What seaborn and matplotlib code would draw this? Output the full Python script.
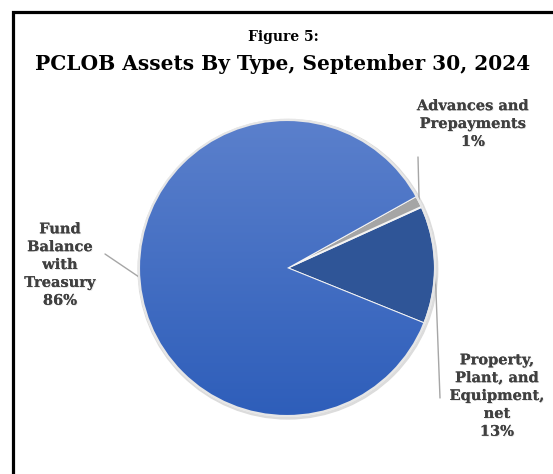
import numpy as np
import matplotlib
matplotlib.use("Agg")
import matplotlib.pyplot as plt
import seaborn as sns
from matplotlib.patches import Rectangle, Circle
import matplotlib.patheffects as pe

# ----------------- Data -----------------
categories = ["Property, Plant, and Equipment, net", "Advances and Prepayments", "Fund Balance with Treasury"]
shares = [12.9, 1.3, 85.8]
pct_labels = ["13%", "1%", "86%"]
label_texts = ["Property,\nPlant, and\nEquipment,\nnet", "Advances and\nPrepayments", "Fund\nBalance\nwith\nTreasury"]
colors = ["#2F5597", "#A5A5A5", "#4472C4"]

# ----------------- Style -----------------
sns.set_theme(style="white")
plt.rcParams["font.family"] = ["DejaVu Serif"]

W, H = 553, 474
CX, CY, R = 287, 268, 148  # pie centre / radius in pixels


def px(x, y):
    # pixel position (from top-left) -> data coords where pie radius = 1
    return (x - CX) / R, (CY - y) / R


fig = plt.figure(figsize=(W / 100, H / 100), dpi=100)
ax = fig.add_axes([0, 0, 1, 1])

# frame around the figure (cut off at right and bottom)
fig.patches.append(Rectangle((12.5 / W, -0.2), 1.2, (H - 11.5) / H + 0.2,
                             transform=fig.transFigure, fill=False,
                             edgecolor="black", linewidth=2.3, zorder=10))

# ----------------- Titles -----------------
fig.text(283 / W, 1 - 37 / H, "Figure 5:", ha="center", va="center",
         fontsize=10, fontweight="bold", color="black")
fig.text(283 / W, 1 - 64 / H, "PCLOB Assets By Type, September 30, 2024", ha="center", va="center",
         fontsize=14.5, fontweight="bold", color="black")

# ----------------- Pie -----------------
ax.add_patch(Circle((0.006, -0.008), 1.012, color="#dcdcdc", zorder=1))
wedges, _ = ax.pie(shares, colors=colors, startangle=-22, counterclock=True, radius=1,
                   wedgeprops=dict(edgecolor="#f4f4f4", linewidth=1.4),
                   frame=True)
ax.set_xlim(-CX / R, (W - CX) / R)
ax.set_ylim((CY - H) / R, CY / R)
ax.set_aspect("auto")
ax.axis("off")
for w in wedges:
    w.set_zorder(3)

# vertical gradient on the large slice (lighter at the top)
grad = np.linspace(0, 1, 256).reshape(-1, 1)
cmap = matplotlib.colors.LinearSegmentedColormap.from_list("g", ["#5B80CC", "#2E5EBA"])
im = ax.imshow(grad, extent=[-1, 1, -1, 1], origin="upper", cmap=cmap, zorder=3.5, aspect="auto")
im.set_clip_path(wedges[2])
ax.add_patch(Circle((0, 0), 1, fill=False, edgecolor="#e6e6e6", linewidth=1.5, zorder=4))

# ----------------- Labels -----------------
label_pos = [(497, 396), (473, 124), (60, 265)]
line_end = [(440, 398), (418, 157), (105, 254)]
shadow = [pe.withSimplePatchShadow(offset=(0.6, -0.6), shadow_rgbFace="#c8c8c8", alpha=0.5), pe.Normal()]

for w, txt, pct, pos, end in zip(wedges, label_texts, pct_labels, label_pos, line_end):
    ang = np.deg2rad((w.theta1 + w.theta2) / 2)
    ex, ey = np.cos(ang), np.sin(ang)
    lx, ly = px(*end)
    ax.plot([ex, lx], [ey, ly], color="#a6a6a6", linewidth=1, zorder=2)
    tx, ty = px(*pos)
    ax.text(tx, ty, txt + "\n" + pct, ha="center", va="center", fontsize=10.5,
            fontweight="bold", color="#404040", linespacing=1.35, path_effects=shadow)

fig.savefig("out.png", dpi=100)
